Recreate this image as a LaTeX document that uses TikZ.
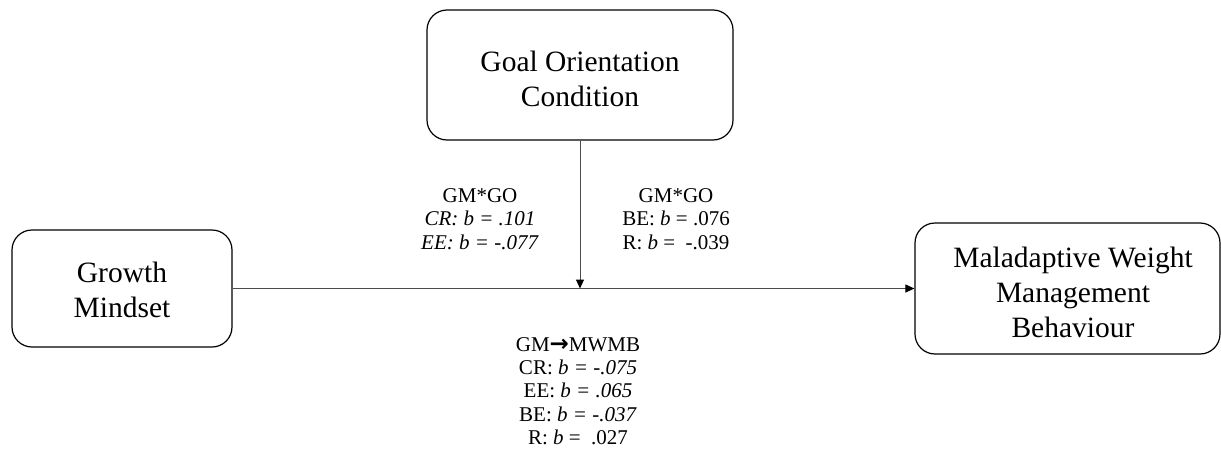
\documentclass[tikz,border=0pt]{standalone}
\usepackage{fontspec}
\setmainfont{Liberation Serif}
\newfontfamily\arrowfont{DejaVu Sans}
\usetikzlibrary{arrows.meta}
\begin{document}
\begin{tikzpicture}[x=1pt,y=-1pt,
  box/.style={draw=black,line width=1.2pt,rounded corners=20pt,inner sep=0pt},
  boxtext/.style={align=center,font=\fontsize{29.5}{35}\selectfont,inner sep=0pt},
  lbl/.style={align=center,font=\fontsize{21}{23.3}\selectfont,inner sep=0pt},
  conn/.style={draw=black!70,line width=1pt,-{Triangle[length=9pt,width=8pt,color=black]}}]
\useasboundingbox (0,0) rectangle (1221,450);
% boxes
\node[box,minimum width=306pt,minimum height=130pt] (goal) at (580,75) {};
\node[boxtext] (goaltxt) at (580,79) {Goal Orientation\\Condition};
\node[box,minimum width=220pt,minimum height=117pt] (gm) at (122,288.5) {};
\node[boxtext] (gmtxt) at (122,290) {Growth\\Mindset};
\node[box,minimum width=305pt,minimum height=131pt] (mwmb) at (1067.5,288.5) {};
\node[boxtext] (mwmbtxt) at (1073,292) {Maladaptive Weight\\Management\\Behaviour};
% connectors
\coordinate (meet) at (goal.south |- gm.east);
\draw[conn] (gm.east) -- (mwmb.west);
\draw[conn] (goal.south) -- (meet);
% labels
\node[lbl] (l1) at (480,219) {GM*GO\\\textit{CR: b = .101}\\\textit{EE: b = -.077}};
\node[lbl] (l2) at (676,219) {GM*GO\\BE: \textit{b} = .076\\R: \textit{b} =\ \ -.039};
\node[lbl] (l3) at (578,391) {GM{\arrowfont\bfseries\fontsize{23}{23}\selectfont →}MWMB\\CR: \textit{b = -.075}\\EE: \textit{b = .065}\\BE: \textit{b = -.037}\\R: \textit{b} =\ \ .027};
\end{tikzpicture}
\end{document}
